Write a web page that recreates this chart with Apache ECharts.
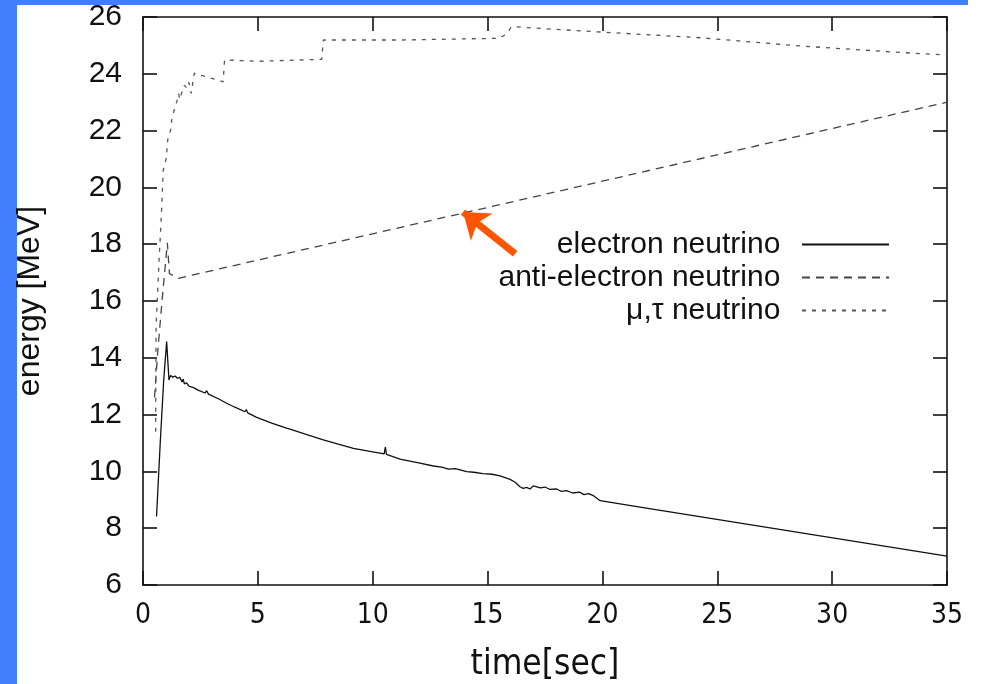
<!DOCTYPE html>
<html>
<head>
<meta charset="utf-8">
<script src="https://cdn.jsdelivr.net/npm/echarts@6/dist/echarts.min.js"></script>
<style>
  html, body { margin: 0; padding: 0; background: #fff; }
  #chart { width: 983px; height: 684px; }
</style>
</head>
<body>
<div id="chart"></div>
<script>
// Mean neutrino energy vs. time after core bounce
const xTicks = { min: 0, max: 35, step: 5 };
const yTicks = { min: 6, max: 26, step: 2 };

const seriesNames = ['electron neutrino', 'anti-electron neutrino', '\u03bc,\u03c4 neutrino'];

// [time (s), energy (MeV)]
const electronNu = [
  [0.59, 8.41], [0.75, 11.0], [0.9, 13.2], [1.03, 14.57], [1.13, 13.22], [1.2, 13.38],
  [1.3, 13.32], [1.4, 13.36], [1.5, 13.28], [1.6, 13.31], [1.7, 13.15], [1.75, 13.25],
  [1.8, 13.08], [1.9, 13.12], [2.0, 13.0], [2.2, 12.95], [2.4, 12.86], [2.7, 12.76],
  [2.77, 12.84], [2.85, 12.72], [3.3, 12.55], [3.64, 12.40], [4.0, 12.26], [4.44, 12.10],
  [4.5, 12.18], [4.56, 12.06], [4.95, 11.9], [5.6, 11.7], [6.25, 11.52], [6.3, 11.57],
  [6.4, 11.49], [7.0, 11.33], [7.85, 11.11], [8.5, 10.96], [9.16, 10.81], [10.0, 10.69],
  [10.5, 10.62], [10.55, 10.86], [10.6, 10.6], [11.19, 10.43], [12.0, 10.30], [12.64, 10.19],
  [13.0, 10.15], [13.3, 10.08], [13.6, 10.1], [14.09, 9.99], [14.4, 9.97], [14.8, 9.92],
  [15.2, 9.9], [15.54, 9.84], [15.98, 9.72], [16.2, 9.62], [16.41, 9.46], [16.55, 9.40],
  [16.7, 9.44], [16.85, 9.38], [16.99, 9.49], [17.3, 9.42], [17.5, 9.45], [17.7, 9.37],
  [18.0, 9.38], [18.2, 9.30], [18.44, 9.32], [18.7, 9.24], [19.0, 9.27], [19.2, 9.18],
  [19.4, 9.22], [19.6, 9.15], [19.9, 8.97], [21.64, 8.74], [35.0, 7.02]
];

const antiElectronNu = [
  [0.5, 12.6], [0.64, 14.2], [0.85, 16.2], [1.06, 18.05], [1.15, 16.97], [1.39, 16.86],
  [1.54, 16.8], [35.0, 23.0]
];

const muTauNu = [
  [0.55, 11.4], [0.56, 13.5], [0.57, 15.1], [0.7, 17.44], [0.81, 19.2], [0.88, 20.6],
  [1.03, 21.08], [1.05, 21.5], [1.1, 21.79], [1.2, 22.0], [1.25, 22.37], [1.35, 22.7],
  [1.47, 23.02], [1.55, 23.3], [1.6, 23.1], [1.7, 23.37], [1.8, 23.6], [1.91, 23.49],
  [2.0, 23.7], [2.1, 23.31], [2.23, 24.02], [3.49, 23.72], [3.55, 24.49], [5.0, 24.44],
  [7.78, 24.51], [7.85, 25.19], [11.2, 25.19], [15.5, 25.25], [15.83, 25.40], [16.04, 25.66],
  [19.3, 25.5], [24.25, 25.27], [28.6, 24.98], [33.0, 24.75], [35.0, 24.66]
];

// Arrow pointing at the anti-electron neutrino curve: [tail, head]
const arrowTail = [16.2, 17.66];
const arrowHead = [13.93, 19.13];

const FONT = '"Liberation Sans", Arial, Helvetica, sans-serif';
const NARROW = '"Liberation Sans Narrow", "Arial Narrow", "DejaVu Sans Condensed", sans-serif';
const INK = '#111';

const chart = echarts.init(document.getElementById('chart'), null, { renderer: 'canvas' });

const baseX = {
  type: 'value', min: xTicks.min, max: xTicks.max, interval: xTicks.step,
  splitLine: { show: false },
  axisLine: { show: true, onZero: false, lineStyle: { color: INK, width: 1.6 } },
  axisTick: { show: true, inside: true, length: 14, lineStyle: { color: INK, width: 1.6 } }
};
const baseY = {
  type: 'value', min: yTicks.min, max: yTicks.max, interval: yTicks.step,
  splitLine: { show: false },
  axisLine: { show: true, onZero: false, lineStyle: { color: INK, width: 1.6 } },
  axisTick: { show: true, inside: true, length: 14, lineStyle: { color: INK, width: 1.6 } }
};

chart.setOption({
  animation: false,
  backgroundColor: '#fff',
  textStyle: { fontFamily: FONT },
  graphic: [
    { type: 'rect', left: 0, top: 0, shape: { width: 968, height: 5 }, style: { fill: '#4080ff' }, silent: true },
    { type: 'rect', left: 0, top: 0, shape: { width: 17, height: 684 }, style: { fill: '#4080ff' }, silent: true }
  ],
  grid: { left: 143, right: 36, top: 17, bottom: 99, containLabel: false, outerBoundsMode: 'none' },
  legend: {
    orient: 'vertical',
    align: 'right',
    right: 93,
    top: 228,
    padding: 0,
    itemWidth: 87,
    itemHeight: 14,
    itemGap: 0,
    data: seriesNames,
    itemStyle: { opacity: 0 },
    formatter: name => name + '  ',
    textStyle: { fontFamily: FONT, fontSize: 30, lineHeight: 33, color: INK }
  },
  xAxis: [
    Object.assign({}, baseX, {
      position: 'bottom',
      name: 'time[sec]', nameLocation: 'middle', nameGap: 62,
      nameTextStyle: { fontFamily: NARROW, fontSize: 35, color: INK },
      axisLabel: { show: true, margin: 17, fontFamily: NARROW, fontSize: 28, color: INK }
    }),
    Object.assign({}, baseX, { position: 'top', axisLabel: { show: false } })
  ],
  yAxis: [
    Object.assign({}, baseY, {
      position: 'left',
      name: 'energy [MeV]', nameLocation: 'middle', nameGap: 97,
      nameTextStyle: { fontFamily: FONT, fontSize: 32, color: INK },
      axisLabel: { show: true, margin: 21, fontFamily: FONT, fontSize: 30, color: INK }
    }),
    Object.assign({}, baseY, { position: 'right', axisLabel: { show: false } })
  ],
  series: [
    {
      name: seriesNames[0], type: 'line', data: electronNu, symbol: 'none', showSymbol: false,
      lineStyle: { color: '#111', width: 1.3, type: 'solid' },
      itemStyle: { color: '#111' }
    },
    {
      name: seriesNames[1], type: 'line', data: antiElectronNu, symbol: 'none', showSymbol: false,
      lineStyle: { color: '#444', width: 1.3, type: [8, 6] },
      itemStyle: { color: '#444' },
      markLine: {
        silent: true,
        symbol: ['none', 'arrow'],
        symbolSize: [26, 24],
        label: { show: false },
        lineStyle: { color: '#ff5500', width: 7, type: 'solid' },
        data: [[{ coord: arrowTail }, { coord: arrowHead }]]
      }
    },
    {
      name: seriesNames[2], type: 'line', data: muTauNu, symbol: 'none', showSymbol: false,
      lineStyle: { color: '#555', width: 1.3, type: [4, 6] },
      itemStyle: { color: '#555' }
    }
  ]
});
</script>
</body>
</html>
